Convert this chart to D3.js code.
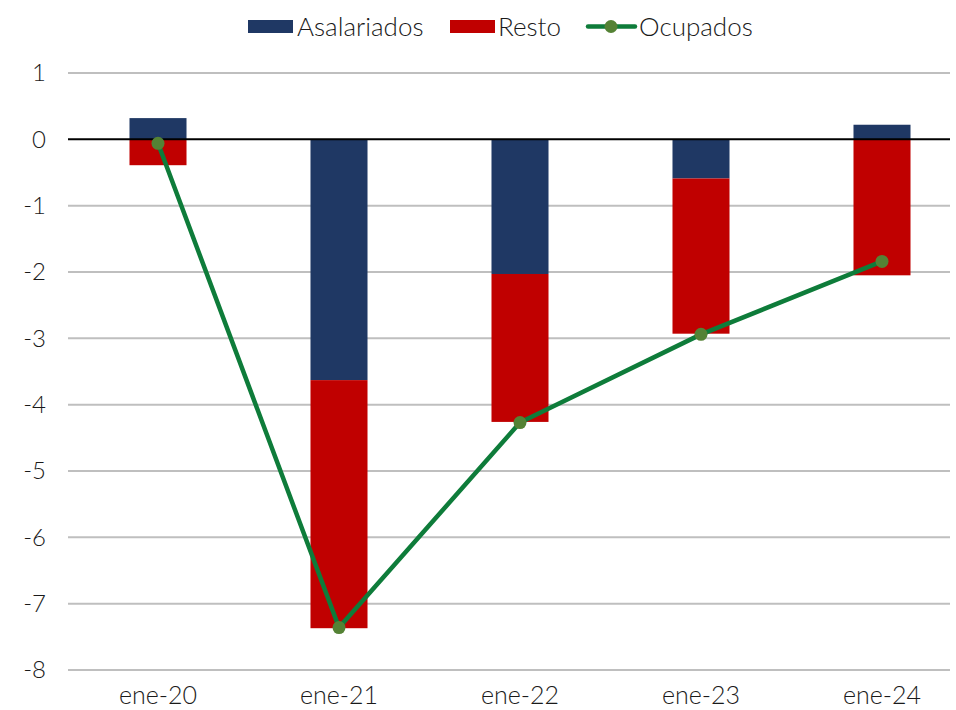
<!DOCTYPE html>
<html>
<head>
<meta charset="utf-8">
<script src="https://cdn.jsdelivr.net/npm/d3@7"></script>
<style>
  html, body { margin: 0; padding: 0; background: #ffffff; }
  svg { display: block; }
  text { font-family: Lato, "Open Sans", sans-serif; font-weight: 300; fill: #1a1a1a; }
</style>
</head>
<body>
<svg id="chart" width="956" height="710"></svg>
<script>
// Employment change by component (millions)
const categories  = ["ene-20", "ene-21", "ene-22", "ene-23", "ene-24"];
const asalariados = [0.32, -3.63, -2.03, -0.59, 0.22];
const resto       = [-0.39, -3.74, -2.23, -2.34, -2.05];
const ocupados    = [-0.06, -7.36, -4.27, -2.94, -1.84];
const yTicks      = [1, 0, -1, -2, -3, -4, -5, -6, -7, -8];

const colors = { asalariados: "#1F3864", resto: "#C00000", line: "#0E7C3A", dot: "#548235" };

const svg = d3.select("#chart");
const gridLeft = 68, gridRight = 950;

const x = d3.scaleBand().domain(categories).range([67.5, 972.5]).paddingInner(0.685).paddingOuter(0.3425);
const y = d3.scaleLinear().domain([-8, 1]).range([670, 73]);

// Gridlines
svg.append("g")
  .selectAll("line")
  .data(yTicks.filter(d => d !== 0))
  .join("line")
  .attr("x1", gridLeft).attr("x2", gridRight)
  .attr("y1", d => y(d)).attr("y2", d => y(d))
  .attr("stroke", "#BFBFBF")
  .attr("stroke-width", 2);

// Y axis labels
svg.append("g")
  .selectAll("text")
  .data(yTicks)
  .join("text")
  .attr("x", 46)
  .attr("y", d => y(d))
  .attr("dy", "0.35em")
  .attr("text-anchor", "end")
  .attr("font-size", 24)
  .text(d => String(d));

// Stacked bars (positive and negative parts stacked separately)
const rows = categories.map((c, i) => ({ cat: c, asalariados: asalariados[i], resto: resto[i] }));
const stack = d3.stack().keys(["asalariados", "resto"]).offset(d3.stackOffsetDiverging);
const series = stack(rows);

svg.append("g")
  .selectAll("g")
  .data(series)
  .join("g")
  .attr("fill", s => colors[s.key])
  .selectAll("rect")
  .data(s => s)
  .join("rect")
  .attr("x", d => x(d.data.cat))
  .attr("width", x.bandwidth())
  .attr("y", d => y(Math.max(d[0], d[1])))
  .attr("height", d => Math.abs(y(d[0]) - y(d[1])));

// Zero line above bars
svg.append("line")
  .attr("x1", gridLeft).attr("x2", gridRight)
  .attr("y1", y(0)).attr("y2", y(0))
  .attr("stroke", "#000").attr("stroke-width", 2);

// Ocupados line
const cx = c => x(c) + x.bandwidth() / 2;
const line = d3.line().x((d, i) => cx(categories[i])).y(d => y(d));
svg.append("path")
  .datum(ocupados)
  .attr("d", line)
  .attr("fill", "none")
  .attr("stroke", colors.line)
  .attr("stroke-width", 4.5)
  .attr("stroke-linejoin", "round");

svg.append("g")
  .selectAll("circle")
  .data(ocupados)
  .join("circle")
  .attr("cx", (d, i) => cx(categories[i]))
  .attr("cy", d => y(d))
  .attr("r", 6.5)
  .attr("fill", colors.dot);

// X axis labels
svg.append("g")
  .selectAll("text")
  .data(categories)
  .join("text")
  .attr("x", d => cx(d))
  .attr("y", 695)
  .attr("dy", "0.35em")
  .attr("text-anchor", "middle")
  .attr("font-size", 25)
  .text(d => d);

// Legend
const legend = svg.append("g");
legend.append("rect").attr("x", 248).attr("y", 20).attr("width", 45).attr("height", 13).attr("fill", colors.asalariados);
legend.append("text").attr("x", 297).attr("y", 27).attr("dy", "0.35em").attr("font-size", 26).text("Asalariados");
legend.append("rect").attr("x", 450).attr("y", 20).attr("width", 45).attr("height", 13).attr("fill", colors.resto);
legend.append("text").attr("x", 498).attr("y", 27).attr("dy", "0.35em").attr("font-size", 26).text("Resto");
legend.append("line").attr("x1", 588).attr("x2", 635).attr("y1", 26.5).attr("y2", 26.5)
  .attr("stroke", colors.line).attr("stroke-width", 4.5).attr("stroke-linecap", "round");
legend.append("circle").attr("cx", 611).attr("cy", 26.5).attr("r", 6.5).attr("fill", colors.dot);
legend.append("text").attr("x", 639).attr("y", 27).attr("dy", "0.35em").attr("font-size", 26).text("Ocupados");
</script>
</body>
</html>
